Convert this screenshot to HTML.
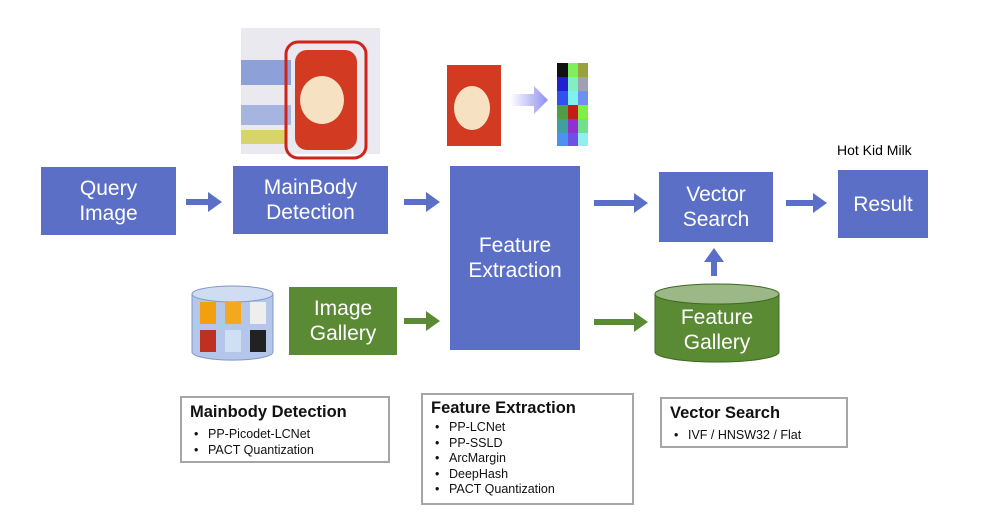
<!DOCTYPE html>
<html><head><meta charset="utf-8"><style>
body{margin:0;width:1002px;height:526px;background:#fff;position:relative;overflow:hidden;font-family:"Liberation Sans",sans-serif}
.b{position:absolute;background:#5b6fc6;color:#fff;display:flex;align-items:center;justify-content:center;text-align:center;font-size:21px;line-height:25px}
.g{background:#5a8a34}
.box{position:absolute;border:2px solid #a6a6a6;background:#fff;box-sizing:border-box;padding:4px 8px;font-size:12.5px;line-height:16px;color:#111}
.box h3{margin:0 0 4px;font-size:16.5px;line-height:20px}
.box ul{margin:0;padding-left:18px;list-style:none}
.box li:before{content:"•";position:absolute;margin-left:-14px}
svg{position:absolute;left:0;top:0}
</style></head><body>
<svg width="1002" height="526">
<defs><linearGradient id="ag" x1="0" x2="1"><stop offset="0" stop-color="#fff"/><stop offset="1" stop-color="#8f8ff0"/></linearGradient></defs>
<!-- photo -->
<rect x="241" y="28" width="139" height="126" fill="#e9e9ef"/>
<rect x="241" y="60" width="50" height="25" fill="#8da0d8"/>
<rect x="241" y="105" width="50" height="20" fill="#a6b4e0"/>
<rect x="241" y="130" width="45" height="14" fill="#d6d46a"/>
<rect x="295" y="50" width="62" height="100" rx="12" fill="#d23a22"/>
<ellipse cx="322" cy="100" rx="22" ry="24" fill="#f6e2c2"/>
<rect x="286" y="42" width="80" height="116" rx="12" fill="none" stroke="#d0231a" stroke-width="3"/>
<!-- small can -->
<rect x="447" y="65" width="54" height="81" fill="#d23a22"/>
<ellipse cx="472" cy="108" rx="18" ry="22" fill="#f6e2c2"/>
<path d="M510 94h24v-8l14 14-14 14v-8h-24z" fill="url(#ag)"/>
<!-- grid -->
<g>
<rect x="557" y="63" width="11" height="14" fill="#111"/><rect x="568" y="63" width="10" height="14" fill="#7ff05a"/><rect x="578" y="63" width="10" height="14" fill="#9aa040"/>
<rect x="557" y="77" width="11" height="14" fill="#2020d0"/><rect x="568" y="77" width="10" height="14" fill="#80f0c0"/><rect x="578" y="77" width="10" height="14" fill="#a0a0b0"/>
<rect x="557" y="91" width="11" height="14" fill="#3050f0"/><rect x="568" y="91" width="10" height="14" fill="#80f0f0"/><rect x="578" y="91" width="10" height="14" fill="#7090f0"/>
<rect x="557" y="105" width="11" height="14" fill="#50a040"/><rect x="568" y="105" width="10" height="14" fill="#c02010"/><rect x="578" y="105" width="10" height="14" fill="#80f040"/>
<rect x="557" y="119" width="11" height="14" fill="#40a0a0"/><rect x="568" y="119" width="10" height="14" fill="#9030d0"/><rect x="578" y="119" width="10" height="14" fill="#70e090"/>
<rect x="557" y="133" width="11" height="13" fill="#5090f0"/><rect x="568" y="133" width="10" height="13" fill="#7050e0"/><rect x="578" y="133" width="10" height="13" fill="#90f0f0"/>
</g>
<!-- arrows blue -->
<g fill="#5b6fc6">
<path d="M186 199h22v-7l14 10-14 10v-7h-22z"/>
<path d="M404 199h22v-7l14 10-14 10v-7h-22z"/>
<path d="M594 200h40v-7l14 10-14 10v-7h-40z"/>
<path d="M786 200h27v-7l14 10-14 10v-7h-27z"/>
<path d="M711 276v-14h-7l10-14 10 14h-7v14z"/>
</g>
<g fill="#5a8a34">
<path d="M404 318h22v-7l14 10-14 10v-7h-22z"/>
<path d="M594 319h40v-7l14 10-14 10v-7h-40z"/>
</g>
<!-- gallery cylinder -->
<path d="M192 294v58a40 8 0 0 0 81 0v-58z" fill="#b4c7ea" stroke="#7f98c8"/>
<ellipse cx="232.5" cy="294" rx="40.5" ry="8" fill="#cfdcf2" stroke="#7f98c8"/>
<rect x="200" y="302" width="16" height="22" fill="#f2a010"/><rect x="225" y="302" width="16" height="22" fill="#f4a820"/><rect x="250" y="302" width="16" height="22" fill="#eee"/>
<rect x="200" y="330" width="16" height="22" fill="#c03020"/><rect x="225" y="330" width="16" height="22" fill="#cfe0f4"/><rect x="250" y="330" width="16" height="22" fill="#222"/>
<!-- feature gallery cylinder -->
<path d="M655 294v58a62 10 0 0 0 124 0v-58z" fill="#5a8a34" stroke="#3f6a20"/>
<ellipse cx="717" cy="294" rx="62" ry="10" fill="#9bb886" stroke="#3f6a20"/>
</svg>
<div class="b" style="left:41px;top:167px;width:135px;height:68px">Query<br>Image</div>
<div class="b" style="left:233px;top:166px;width:155px;height:68px">MainBody<br>Detection</div>
<div class="b" style="left:450px;top:166px;width:130px;height:184px">Feature<br>Extraction</div>
<div class="b" style="left:659px;top:172px;width:114px;height:70px">Vector<br>Search</div>
<div class="b" style="left:838px;top:170px;width:90px;height:68px">Result</div>
<div style="position:absolute;left:837px;top:142px;font-size:14px">Hot Kid Milk</div>
<div class="b g" style="left:289px;top:287px;width:108px;height:68px">Image<br>Gallery</div>
<div class="b" style="left:655px;top:305px;width:124px;height:50px;background:none">Feature<br>Gallery</div>
<div class="box" style="left:180px;top:396px;width:210px;height:67px"><h3>Mainbody Detection</h3><ul><li>PP-Picodet-LCNet</li><li>PACT Quantization</li></ul></div>
<div class="box" style="left:421px;top:393px;width:213px;height:112px;padding-top:3px"><h3 style="margin-bottom:2px">Feature Extraction</h3><ul style="line-height:15.5px"><li>PP-LCNet</li><li>PP-SSLD</li><li>ArcMargin</li><li>DeepHash</li><li>PACT Quantization</li></ul></div>
<div class="box" style="left:660px;top:397px;width:188px;height:51px"><h3>Vector Search</h3><ul><li>IVF / HNSW32 / Flat</li></ul></div>
</body></html>
